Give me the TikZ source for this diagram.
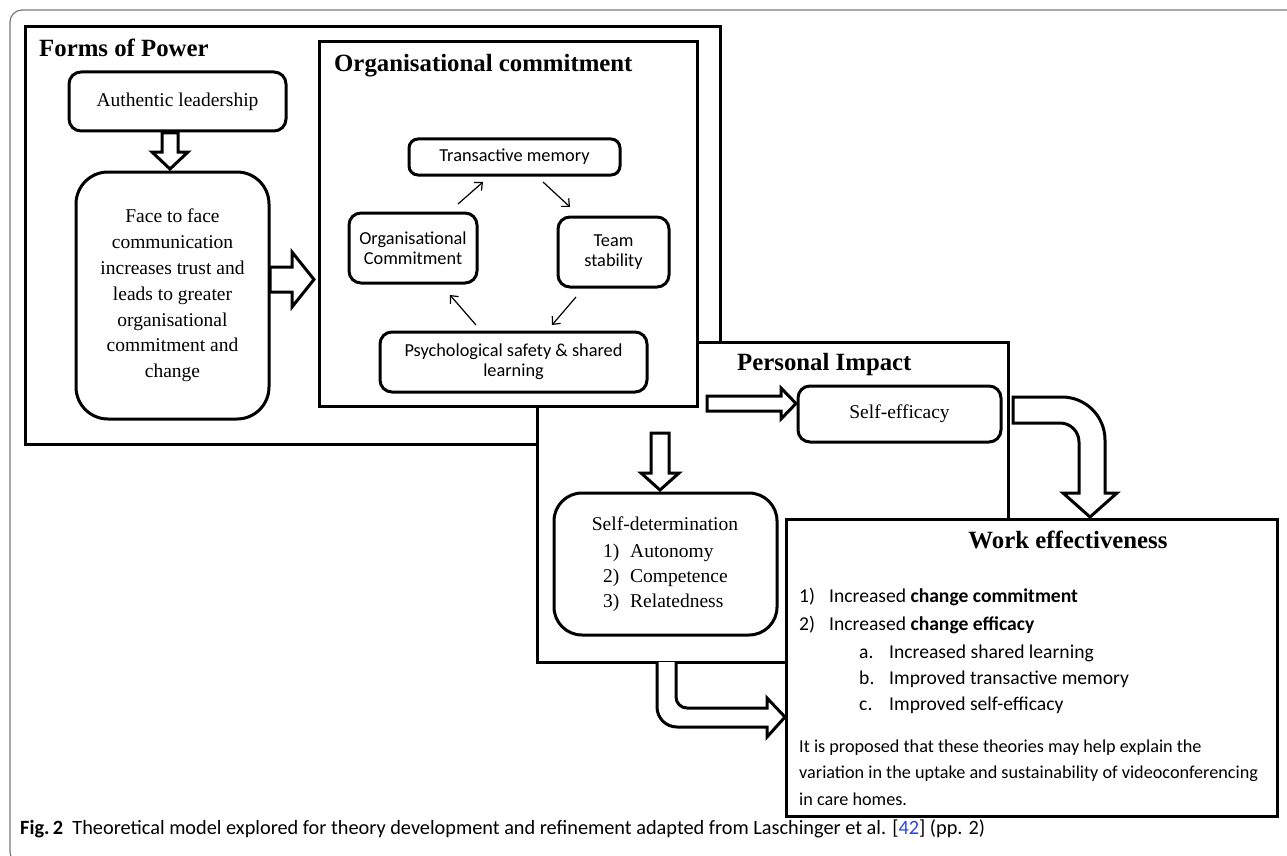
\documentclass[tikz,border=0pt]{standalone}
\usepackage{fontspec}
\setmainfont{Liberation Serif}
\newfontfamily\calib{Carlito}
\usetikzlibrary{arrows.meta}
\definecolor{linkblue}{RGB}{40,70,220}
\definecolor{framegray}{RGB}{120,120,120}
\tikzset{
  x=1pt, y=-1pt,
  frame/.style={draw, line width=3pt, fill=white, inner sep=0pt},
  rbox/.style={draw, line width=3pt, rounded corners=#1, fill=white, inner sep=0pt, align=center},
  rbox/.default=12pt,
  blockarrow/.style={draw, line width=3pt, fill=white, line join=miter, miter limit=10},
  cyc/.style={line width=1.2pt, -{Straight Barb[length=6pt,width=11pt]}},
  serif/.style={font=\fontsize{19.5}{25.8}\selectfont},
  titlef/.style={font=\fontsize{24.8}{28}\selectfont\bfseries, inner sep=0pt},
  sansc/.style={font=\calib\fontsize{18.3}{20}\selectfont},
  sansw/.style={font=\calib\fontsize{19.6}{26}\selectfont, inner sep=0pt},
  sansp/.style={font=\calib\fontsize{18.2}{26}\selectfont, inner sep=0pt},
  txt/.style={inner sep=0pt},
  capf/.style={font=\calib\fontsize{20.3}{22}\selectfont, inner sep=0pt},
}
\begin{document}
\begin{tikzpicture}
\useasboundingbox (0,0) rectangle (1287,856);
\clip (0,0) rectangle (1287,856);
% outer frame
\draw[framegray, line width=1.2pt, rounded corners=12pt] (10,10) rectangle (1320,864);

% big frames
\node[frame, minimum width=695pt, minimum height=417pt] (fp) at (372.5,235.5) {};
\node[titlef, anchor=base west] (fpt) at (39,57) {Forms of Power};
\node[frame, minimum width=471pt, minimum height=320pt] (pi) at (772.5,502) {};
\node[titlef, anchor=base west] (pit) at (737,370) {Personal Impact};
\node[frame, minimum width=378pt, minimum height=364pt] (org) at (508,224) {};
\node[titlef, anchor=base west] (orgt) at (334,72) {Organisational commitment};
\node[frame, minimum width=491pt, minimum height=297pt] (we) at (1031.5,667.5) {};

% forms of power contents
\node[rbox, serif, minimum width=217pt, minimum height=59pt] (al) at (177.5,101.5) {Authentic leadership};
\node[rbox=32pt, serif, minimum width=193pt, minimum height=247pt] (ff) at (172.5,295.5)
  {Face to face\\communication\\increases trust and\\leads to greater\\organisational\\commitment and\\change};
\draw[blockarrow] (162,133) -- (178,133) -- (178,152) -- (188,152) -- (170,169) -- (152,152) -- (162,152) -- cycle;
\draw[blockarrow] (270,267) -- (292,267) -- (292,252) -- (314,279.5) -- (292,307) -- (292,292) -- (270,292) -- cycle;

% organisational commitment cycle
\node[rbox=9pt, sansc, minimum width=211pt, minimum height=36pt] (tm) at (514.5,157) {Transactive memory};
\node[rbox=12pt, sansc, minimum width=128pt, minimum height=70pt] (oc) at (413,248) {Organisational\\Commitment};
\node[rbox=12pt, sansc, minimum width=111pt, minimum height=70pt] (ts) at (613.5,252) {Team\\stability};
\node[rbox=12pt, sansc, minimum width=267pt, minimum height=60pt] (ps) at (513.5,362) {Psychological safety \& shared\\learning};
\coordinate (c1a) at (458,204); \coordinate (c1b) at (483,182);
\coordinate (c2a) at (543,182); \coordinate (c2b) at (570,207);
\coordinate (c3a) at (576,297); \coordinate (c3b) at (552,325);
\coordinate (c4a) at (476,325); \coordinate (c4b) at (450,295);
\draw[cyc] (c1a) -- (c1b);
\draw[cyc] (c2a) -- (c2b);
\draw[cyc] (c3a) -- (c3b);
\draw[cyc] (c4a) -- (c4b);

% personal impact contents
\node[rbox=12pt, serif, minimum width=203pt, minimum height=56pt] (se) at (899.5,414) {Self-efficacy};
\draw[blockarrow] (707,396) -- (781,396) -- (781,388) -- (796,403.5) -- (781,419) -- (781,411) -- (707,411) -- cycle;
\draw[blockarrow] (651,433) -- (669,433) -- (669,473) -- (679,473) -- (660,490) -- (641,473) -- (651,473) -- cycle;
\node[rbox=28pt, minimum width=223pt, minimum height=142pt] (sd) at (665.5,564) {};
\node[serif, txt, anchor=base] (sdt) at (665,530) {Self-determination};
\node[serif, txt, anchor=base west] (sd1n) at (603,557) {1)};
\node[serif, txt, anchor=base west] (sd1) at (630,557) {Autonomy};
\node[serif, txt, anchor=base west] (sd2n) at (603,582) {2)};
\node[serif, txt, anchor=base west] (sd2) at (630,582) {Competence};
\node[serif, txt, anchor=base west] (sd3n) at (603,607) {3)};
\node[serif, txt, anchor=base west] (sd3) at (630,607) {Relatedness};

% curved arrow self-efficacy -> work effectiveness
\draw[blockarrow] (1013,397) -- (1062,397) arc(-90:0:43) -- (1105,493) -- (1117,493) -- (1090,517)
  -- (1063,493) -- (1079,493) -- (1079,442) arc(0:-90:19) -- (1013,423) -- cycle;
% curved arrow personal impact -> work effectiveness
\draw[blockarrow] (657,662) -- (657,707) arc(180:90:20) -- (767,727) -- (767,737) -- (785,717)
  -- (767,698) -- (767,708) -- (687,708) arc(90:180:11) -- (676,662);

% work effectiveness contents
\node[titlef, anchor=base] (wet) at (1068,548) {Work effectiveness};
\node[sansw, anchor=base west] (w1n) at (799,602) {1)};
\node[sansw, anchor=base west] (w1) at (829,602) {Increased \textbf{change commitment}};
\node[sansw, anchor=base west] (w2n) at (799,630) {2)};
\node[sansw, anchor=base west] (w2) at (829,630) {Increased \textbf{change efficacy}};
\node[sansw, anchor=base west] (wan) at (859,658) {a.};
\node[sansw, anchor=base west] (wa) at (889,658) {Increased shared learning};
\node[sansw, anchor=base west] (wbn) at (859,684) {b.};
\node[sansw, anchor=base west] (wb) at (889,684) {Improved transactive memory};
\node[sansw, anchor=base west] (wcn) at (859,710) {c.};
\node[sansw, anchor=base west] (wc) at (889,710) {Improved self-efficacy};
\node[sansp, anchor=base west] (wp1) at (799,752) {It is proposed that these theories may help explain the};
\node[sansp, anchor=base west] (wp2) at (799,778) {variation in the uptake and sustainability of videoconferencing};
\node[sansp, anchor=base west] (wp3) at (799,805) {in care homes.};

% caption
\node[capf, anchor=base west] (cap) at (20,834) {\textbf{Fig.\,2}\ \ Theoretical model explored for theory development and refinement adapted from Laschinger et al. [\textcolor{linkblue}{42}] (pp. 2)};
\end{tikzpicture}
\end{document}
